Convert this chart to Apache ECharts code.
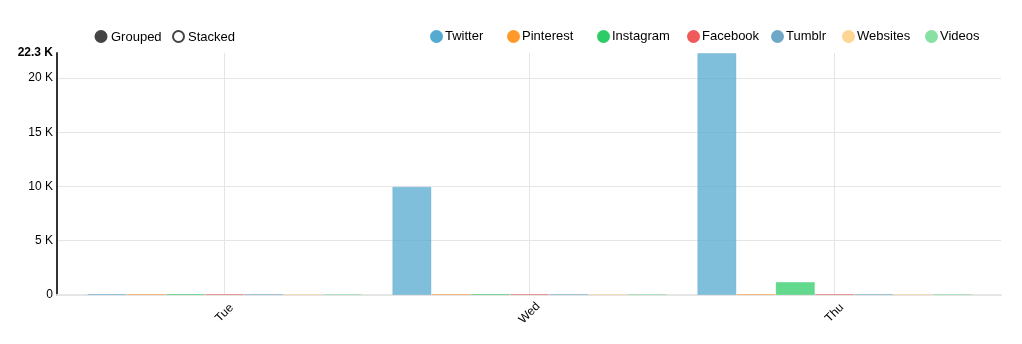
<!DOCTYPE html>
<html>
<head>
<meta charset="utf-8">
<script src="https://cdn.jsdelivr.net/npm/echarts@6/dist/echarts.min.js"></script>
<style>
html,body{margin:0;padding:0;background:#fff;}
#chart{width:1022px;height:344px;}
</style>
</head>
<body>
<div id="chart"></div>
<script>
// ---- data ----
const categories = ['Tue', 'Wed', 'Thu'];
const seriesNames = ['Twitter', 'Pinterest', 'Instagram', 'Facebook', 'Tumblr', 'Websites', 'Videos'];
const twitter   = [0, 9980, 22300];
const pinterest = [0, 0, 0];
const instagram = [0, 0, 1200];
const facebook  = [0, 0, 0];
const tumblr    = [0, 0, 0];
const websites  = [0, 0, 0];
const videos    = [0, 0, 0];
const yMax = 22300;
const yTickStep = 5000;

const seriesValues = [twitter, pinterest, instagram, facebook, tumblr, websites, videos];
const colors = ['#55aad0', '#ff9a2a', '#2ecc66', '#f05a5a', '#6fa8c6', '#ffd595', '#88e0a2'];
const legendLeft = [430, 507, 597, 687, 771, 842, 925];

function hexA(hex, a) {
  const n = parseInt(hex.slice(1), 16);
  return 'rgba(' + (n >> 16) + ',' + ((n >> 8) & 255) + ',' + (n & 255) + ',' + a + ')';
}

const FONT = '"Liberation Sans", Arial, sans-serif';
const chart = echarts.init(document.getElementById('chart'));

const series = seriesNames.map((name, i) => ({
  name: name,
  type: 'bar',
  xAxisIndex: 1,
  yAxisIndex: 1,
  data: seriesValues[i],
  barGap: '0%',
  barCategoryGap: '10%',
  barMinHeight: 1,
  z: 3,
  itemStyle: {
    color: hexA(colors[i], 0.75),
    borderColor: hexA(colors[i], 0.35),
    borderWidth: 1
  },
  emphasis: { disabled: true }
}));

// vertical grid lines at category centres, drawn through the category scale
series.push({
  name: 'grid-lines',
  type: 'line',
  xAxisIndex: 1,
  yAxisIndex: 1,
  data: [],
  silent: true,
  z: 1,
  markLine: {
    silent: true,
    symbol: ['none', 'none'],
    z: 1,
    label: { show: false },
    lineStyle: { color: '#e5e5e5', width: 1, type: 'solid' },
    emphasis: { disabled: true },
    data: categories.map(c => ({ xAxis: c }))
  }
});

const legends = seriesNames.map((name, i) => ({
  data: [name],
  left: legendLeft[i],
  top: 30,
  icon: 'circle',
  itemWidth: 13,
  itemHeight: 13,
  padding: 0,
  itemStyle: { color: colors[i], borderWidth: 0 },
  textStyle: { fontFamily: FONT, fontSize: 13, color: '#000', padding: [2, 0, 0, -3] }
}));

const option = {
  animation: false,
  backgroundColor: '#fff',
  legend: legends,
  graphic: [
    { type: 'circle', shape: { cx: 101, cy: 36.5, r: 6.5 }, style: { fill: '#444' } },
    { type: 'text', left: 111, top: 31, style: { text: 'Grouped', font: '13px "Liberation Sans", Arial', fill: '#000' } },
    { type: 'circle', shape: { cx: 178.5, cy: 36.5, r: 5.5 }, style: { fill: '#fff', stroke: '#444', lineWidth: 2 } },
    { type: 'text', left: 188, top: 31, style: { text: 'Stacked', font: '13px "Liberation Sans", Arial', fill: '#000' } }
  ],
  grid: [
    { left: 57, right: 21, top: 53, bottom: 49 },
    { left: 72, right: 35, top: 53, bottom: 49 }
  ],
  xAxis: [
    {
      gridIndex: 0, type: 'value', min: 0, max: 1,
      axisLine: { show: true, onZero: false, lineStyle: { color: '#e5e5e5', width: 2 } },
      axisTick: { show: false }, axisLabel: { show: false }, splitLine: { show: false }
    },
    {
      gridIndex: 1, type: 'category', data: categories,
      axisLine: { show: false }, axisTick: { show: false }, splitLine: { show: false },
      axisLabel: {
        rotate: 45, align: 'center', verticalAlign: 'middle', margin: 18,
        fontFamily: FONT, fontSize: 12, color: '#000'
      }
    }
  ],
  yAxis: [
    {
      gridIndex: 0, type: 'value', min: 0, max: yMax, interval: yTickStep,
      axisLine: { show: true, lineStyle: { color: '#333', width: 2 } },
      axisTick: { show: false },
      splitLine: { show: true, showMaxLine: false, showMinLine: false, lineStyle: { color: '#e5e5e5', width: 1 } },
      axisLabel: {
        margin: 4, fontFamily: FONT, fontSize: 12, color: '#000',
        showMaxLabel: true,
        formatter: function (v) {
          if (v === yMax) return '{b|' + (v / 1000).toFixed(1) + ' K}';
          return v === 0 ? '0' : (v / 1000) + ' K';
        },
        rich: { b: { fontWeight: 'bold', fontFamily: FONT, fontSize: 12, color: '#000' } }
      }
    },
    { gridIndex: 1, type: 'value', min: 0, max: yMax, show: false }
  ],
  series: series
};
chart.setOption(option);
</script>
</body>
</html>
